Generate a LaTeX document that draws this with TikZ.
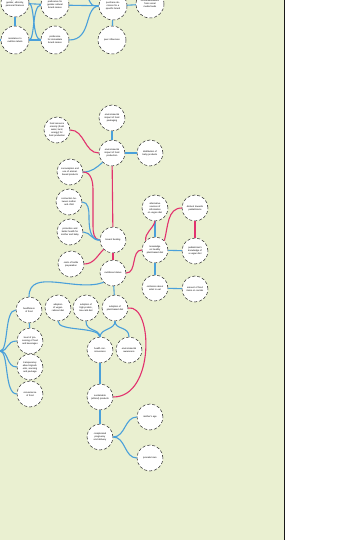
\documentclass[tikz,border=0pt]{standalone}
\usepackage{fontspec}
\setsansfont{Liberation Sans}
\definecolor{mapgreen}{RGB}{234,240,209}
\definecolor{linkblue}{RGB}{74,160,218}
\definecolor{linkpink}{RGB}{226,50,110}
\begin{document}
\begin{tikzpicture}[x=1pt,y=-1pt,
  factor/.style={circle,draw=black!85,densely dashed,line width=0.5pt,fill=white,
    minimum size=26pt,inner sep=0pt,align=center,text width=19pt,
    font=\sffamily\fontsize{2.3}{3}\selectfont},
  bigfactor/.style={factor,minimum size=28pt},
  bluelink/.style={linkblue,line width=1.1pt},
  pinklink/.style={linkpink,line width=1.1pt}]
  \clip (0,0) rectangle (342,540);
  \fill[mapgreen] (0,0) rectangle (284,540);
  \draw[line width=1.4pt,black!90] (284.7,0) -- (284.7,540);

  \node[bigfactor] (race) at (15,3) {age, race, gender, ethnicity, personal finances};
  \node[bigfactor] (genderpref) at (55,5) {preference for gender-cultural brand names};
  \node[bigfactor] (purchase) at (113,6) {purchase decisions for a specific brand};
  \node[bigfactor] (socialfeed) at (150,4) {recommen\-dations from social media feeds};
  \node[bigfactor] (labels) at (15,40) {resistance to nutrition labels};
  \node[bigfactor] (immpref) at (55,40) {preference for immediate brand names};
  \node[bigfactor] (peers) at (112,40) {peer influences};

  \node[factor] (packaging) at (112,118) {environmental impact of food packaging};
  \node[factor] (production) at (112,153) {environmental impact of food production};
  \node[factor] (babyprod) at (150,153) {distribution of baby products};
  \node[factor] (scarcity) at (57,130) {food resource scarcity (fresh water, land, energy) for food production};
  \node[factor] (animal) at (70,172) {consumption and use of animal-based products};
  \node[factor] (bond) at (69,202) {connection between mother and child};
  \node[factor] (protection) at (70,232) {protection and better health for mother and baby};
  \node[factor] (bottle) at (71,264) {costs of bottle preparation};
  \node[factor] (breastfeed) at (113,240) {breast feeding};
  \node[factor] (nutrition) at (113,273) {nutritional status};
  \node[factor] (altsources) at (155,208) {alternative sources of information on vegan diet};
  \node[factor] (distrust) at (195,208) {distrust towards pediatricians};
  \node[factor] (knowledge) at (155,250) {knowledge on healthy plant-based diet};
  \node[factor] (pedknow) at (195,251) {pediatrician's knowledge of a vegan diet};
  \node[factor] (confusion) at (155,288) {confusion about what to eat};
  \node[factor] (socials) at (195,289) {amount of food items on socials};

  \node[factor] (healthy) at (29,310) {healthiness of food};
  \node[factor] (processing) at (30,341) {level of processing of food and beverages};
  \node[factor] (transparency) at (30,367) {transparency about ingredients, sourcing and package};
  \node[factor] (convenience) at (30,394) {convenience of food};
  \node[factor] (vegdiet) at (58,308) {adoption of vegan-rational diet};
  \node[factor] (protein) at (86,308) {adoption of high-protein, low-carb diet};
  \node[factor] (plantdiet) at (115,308) {adoption of plant-based diet};
  \node[factor] (health) at (100,350) {health consciousness};
  \node[factor] (environment) at (129,350) {environmental awareness};
  \node[factor] (sustainable) at (100,397) {sustainable (ethical) products};
  \node[factor] (pregnancy) at (100,437) {complicated pregnancy and delivery};
  \node[factor] (age) at (150,417) {mother's age};
  \node[factor] (prenatal) at (150,458) {prenatal care};

  \coordinate (leftin) at (0,40);
  \coordinate (topin) at (88,-2);
  \coordinate (brace) at (0,351);

  \draw[bluelink] (leftin) -- (labels);
  \draw[bluelink] (race) -- (labels);
  \draw[bluelink] (race) -- (genderpref);
  \draw[bluelink] (labels) -- (immpref);
  \draw[bluelink] (race.east) .. controls (35,6) and (32,39) .. (immpref.west);
  \draw[bluelink] (labels.east) .. controls (35,39) and (32,6) .. (genderpref.west);
  \draw[bluelink] (genderpref) -- (purchase);
  \draw[bluelink] (immpref.east) .. controls (92,40) and (84,7) .. (purchase.west);
  \draw[bluelink] (topin) .. controls (92,6) .. (purchase.west);
  \draw[bluelink] (purchase) -- (socialfeed);
  \draw[bluelink] (purchase) -- (peers);

  \draw[bluelink] (packaging) -- (production);
  \draw[bluelink] (production) -- (babyprod);
  \draw[pinklink] (scarcity.east) to[out=0,in=180] (production.west);
  \draw[bluelink] (animal.east) to[out=0,in=220] (production.south west);
  \draw[pinklink] (production) -- (breastfeed);
  \draw[pinklink] (animal.east) to[out=0,in=90] (93,190) -- (93,226) to[out=-90,in=180] (breastfeed.west);
  \draw[bluelink] (bond.east) to[out=0,in=90] (89,216) to[out=-90,in=180] (breastfeed.west);
  \draw[bluelink] (protection.east) to[out=0,in=190] (breastfeed.west);
  \draw[pinklink] (bottle.east) to[out=0,in=225] (breastfeed.south west);
  \draw[pinklink] (breastfeed) -- (nutrition);
  \draw[pinklink] (nutrition.east) to[out=0,in=180] (knowledge.west);
  \draw[bluelink] (altsources) -- (knowledge);
  \draw[pinklink] (altsources.south) to[out=-105,in=95] (knowledge.north west);
  \draw[pinklink] (distrust.west) to[out=180,in=75] (knowledge.north east);
  \draw[pinklink] (distrust) -- (pedknow);
  \draw[bluelink] (knowledge) -- (pedknow);
  \draw[bluelink] (knowledge) -- (confusion);
  \draw[bluelink] (confusion) -- (socials);

  \draw[bluelink] (nutrition.south west) to[out=200,in=90] (healthy.north);
  \draw[bluelink] (nutrition) -- (plantdiet);
  \draw[bluelink] (healthy) -- (processing);
  \draw[bluelink] (brace) .. controls (9,351) and (4,310) .. (healthy.west);
  \draw[bluelink] (brace) .. controls (9,351) and (6,341) .. (processing.west);
  \draw[bluelink] (brace) .. controls (9,351) and (6,367) .. (transparency.west);
  \draw[bluelink] (brace) .. controls (9,351) and (4,394) .. (convenience.west);
  \draw[bluelink] (vegdiet.south) .. controls (58,332) and (98,326) .. (health.north);
  \draw[bluelink] (protein.south) .. controls (86,332) and (99,328) .. (health.north);
  \draw[bluelink] (plantdiet.south) .. controls (115,330) and (101,328) .. (health.north);
  \draw[bluelink] (plantdiet.south) .. controls (115,330) and (129,326) .. (environment.north);
  \draw[pinklink] (plantdiet.east) .. controls (153,304) and (155,397) .. (sustainable.east);
  \draw[bluelink] (health) -- (sustainable);
  \draw[bluelink] (sustainable) -- (pregnancy);
  \draw[bluelink] (pregnancy.east) to[out=0,in=180] (age.west);
  \draw[bluelink] (pregnancy.east) to[out=0,in=180] (prenatal.west);
\end{tikzpicture}
\end{document}
